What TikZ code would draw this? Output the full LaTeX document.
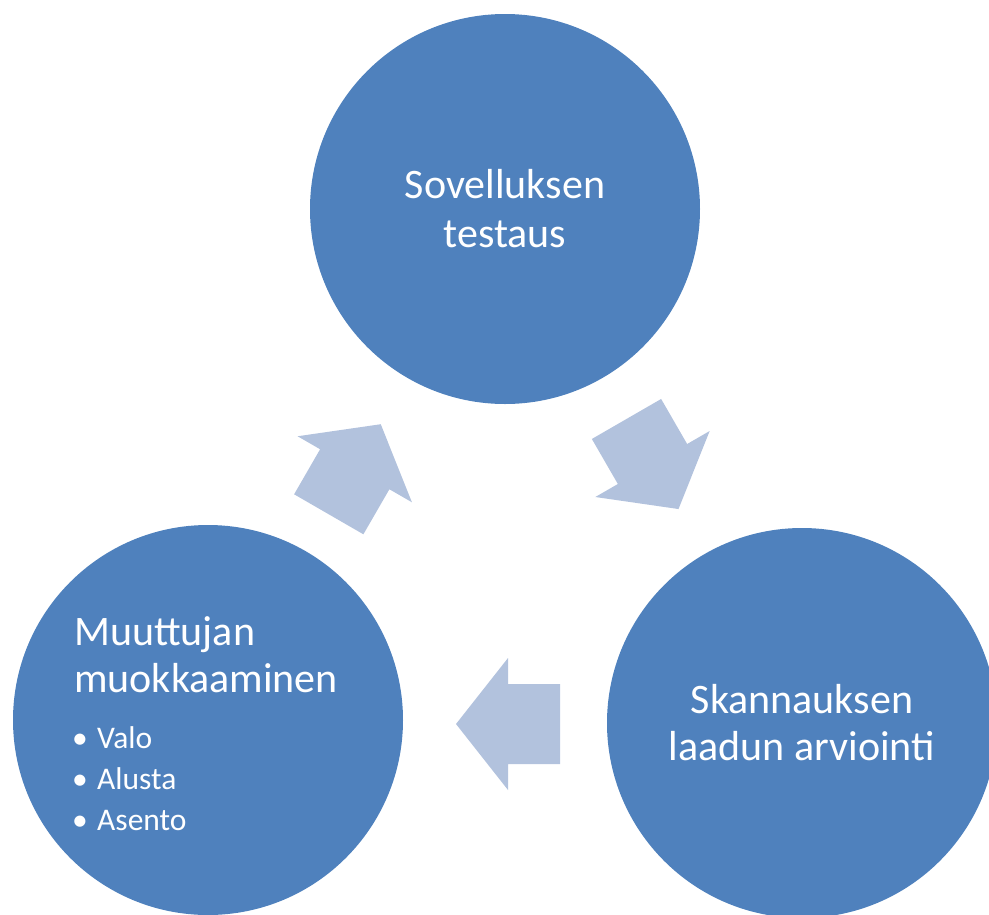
\documentclass[tikz,border=0pt]{standalone}
\usepackage{fontspec}
\setmainfont{Carlito}
\definecolor{circblue}{HTML}{4F81BD}
\definecolor{arrowblue}{HTML}{B2C2DD}
\tikzset{
  stage/.style={circle, fill=circblue, draw=none, minimum size=390pt, inner sep=0pt},
  bigtext/.style={text=white, font=\fontsize{42}{49}\selectfont, inner sep=0pt},
  smalltext/.style={text=white, font=\fontsize{31.5}{41}\selectfont, inner sep=0pt},
  cyclearrow/.pic={
    \fill[arrowblue] (52,0) -- (0,66) -- (0,40) -- (-52,40) -- (-52,-40) -- (0,-40) -- (0,-66) -- cycle;
  }
}
\begin{document}
\begin{tikzpicture}[x=1pt,y=-1pt]
\useasboundingbox (0,0) rectangle (989,914);
\clip (0,0) rectangle (989,914);
% circles
\node[stage] (top) at (505,209) {};
\node[stage] (left) at (208,720) {};
\node[stage] (right) at (802,723) {};
% arrows
\pic[rotate=60] at (354.75,469.25) {cyclearrow};
\pic[rotate=-60] at (652.5,464) {cyclearrow};
\pic[rotate=180] at (508,724) {cyclearrow};
% top text
\node[bigtext, anchor=base] (topa) at (505,198) {Sovelluksen};
\node[bigtext, anchor=base] (topb) at (505,247) {testaus};
% right text
\node[bigtext, anchor=base] (righta) at (802,713) {Skannauksen};
\node[bigtext, anchor=base] (rightb) at (802,760) {laadun arviointi};
% left text
\node[bigtext, anchor=base west] (lefta) at (74,645) {Muuttujan};
\node[bigtext, anchor=base west] (leftb) at (74,692) {muokkaaminen};
\node[smalltext, anchor=base] (b1) at (80,748) {•};
\node[smalltext, anchor=base] (b2) at (80,789) {•};
\node[smalltext, anchor=base] (b3) at (80,830) {•};
\node[smalltext, anchor=base west] (i1) at (97,748) {Valo};
\node[smalltext, anchor=base west] (i2) at (97,789) {Alusta};
\node[smalltext, anchor=base west] (i3) at (97,830) {Asento};
\end{tikzpicture}
\end{document}
